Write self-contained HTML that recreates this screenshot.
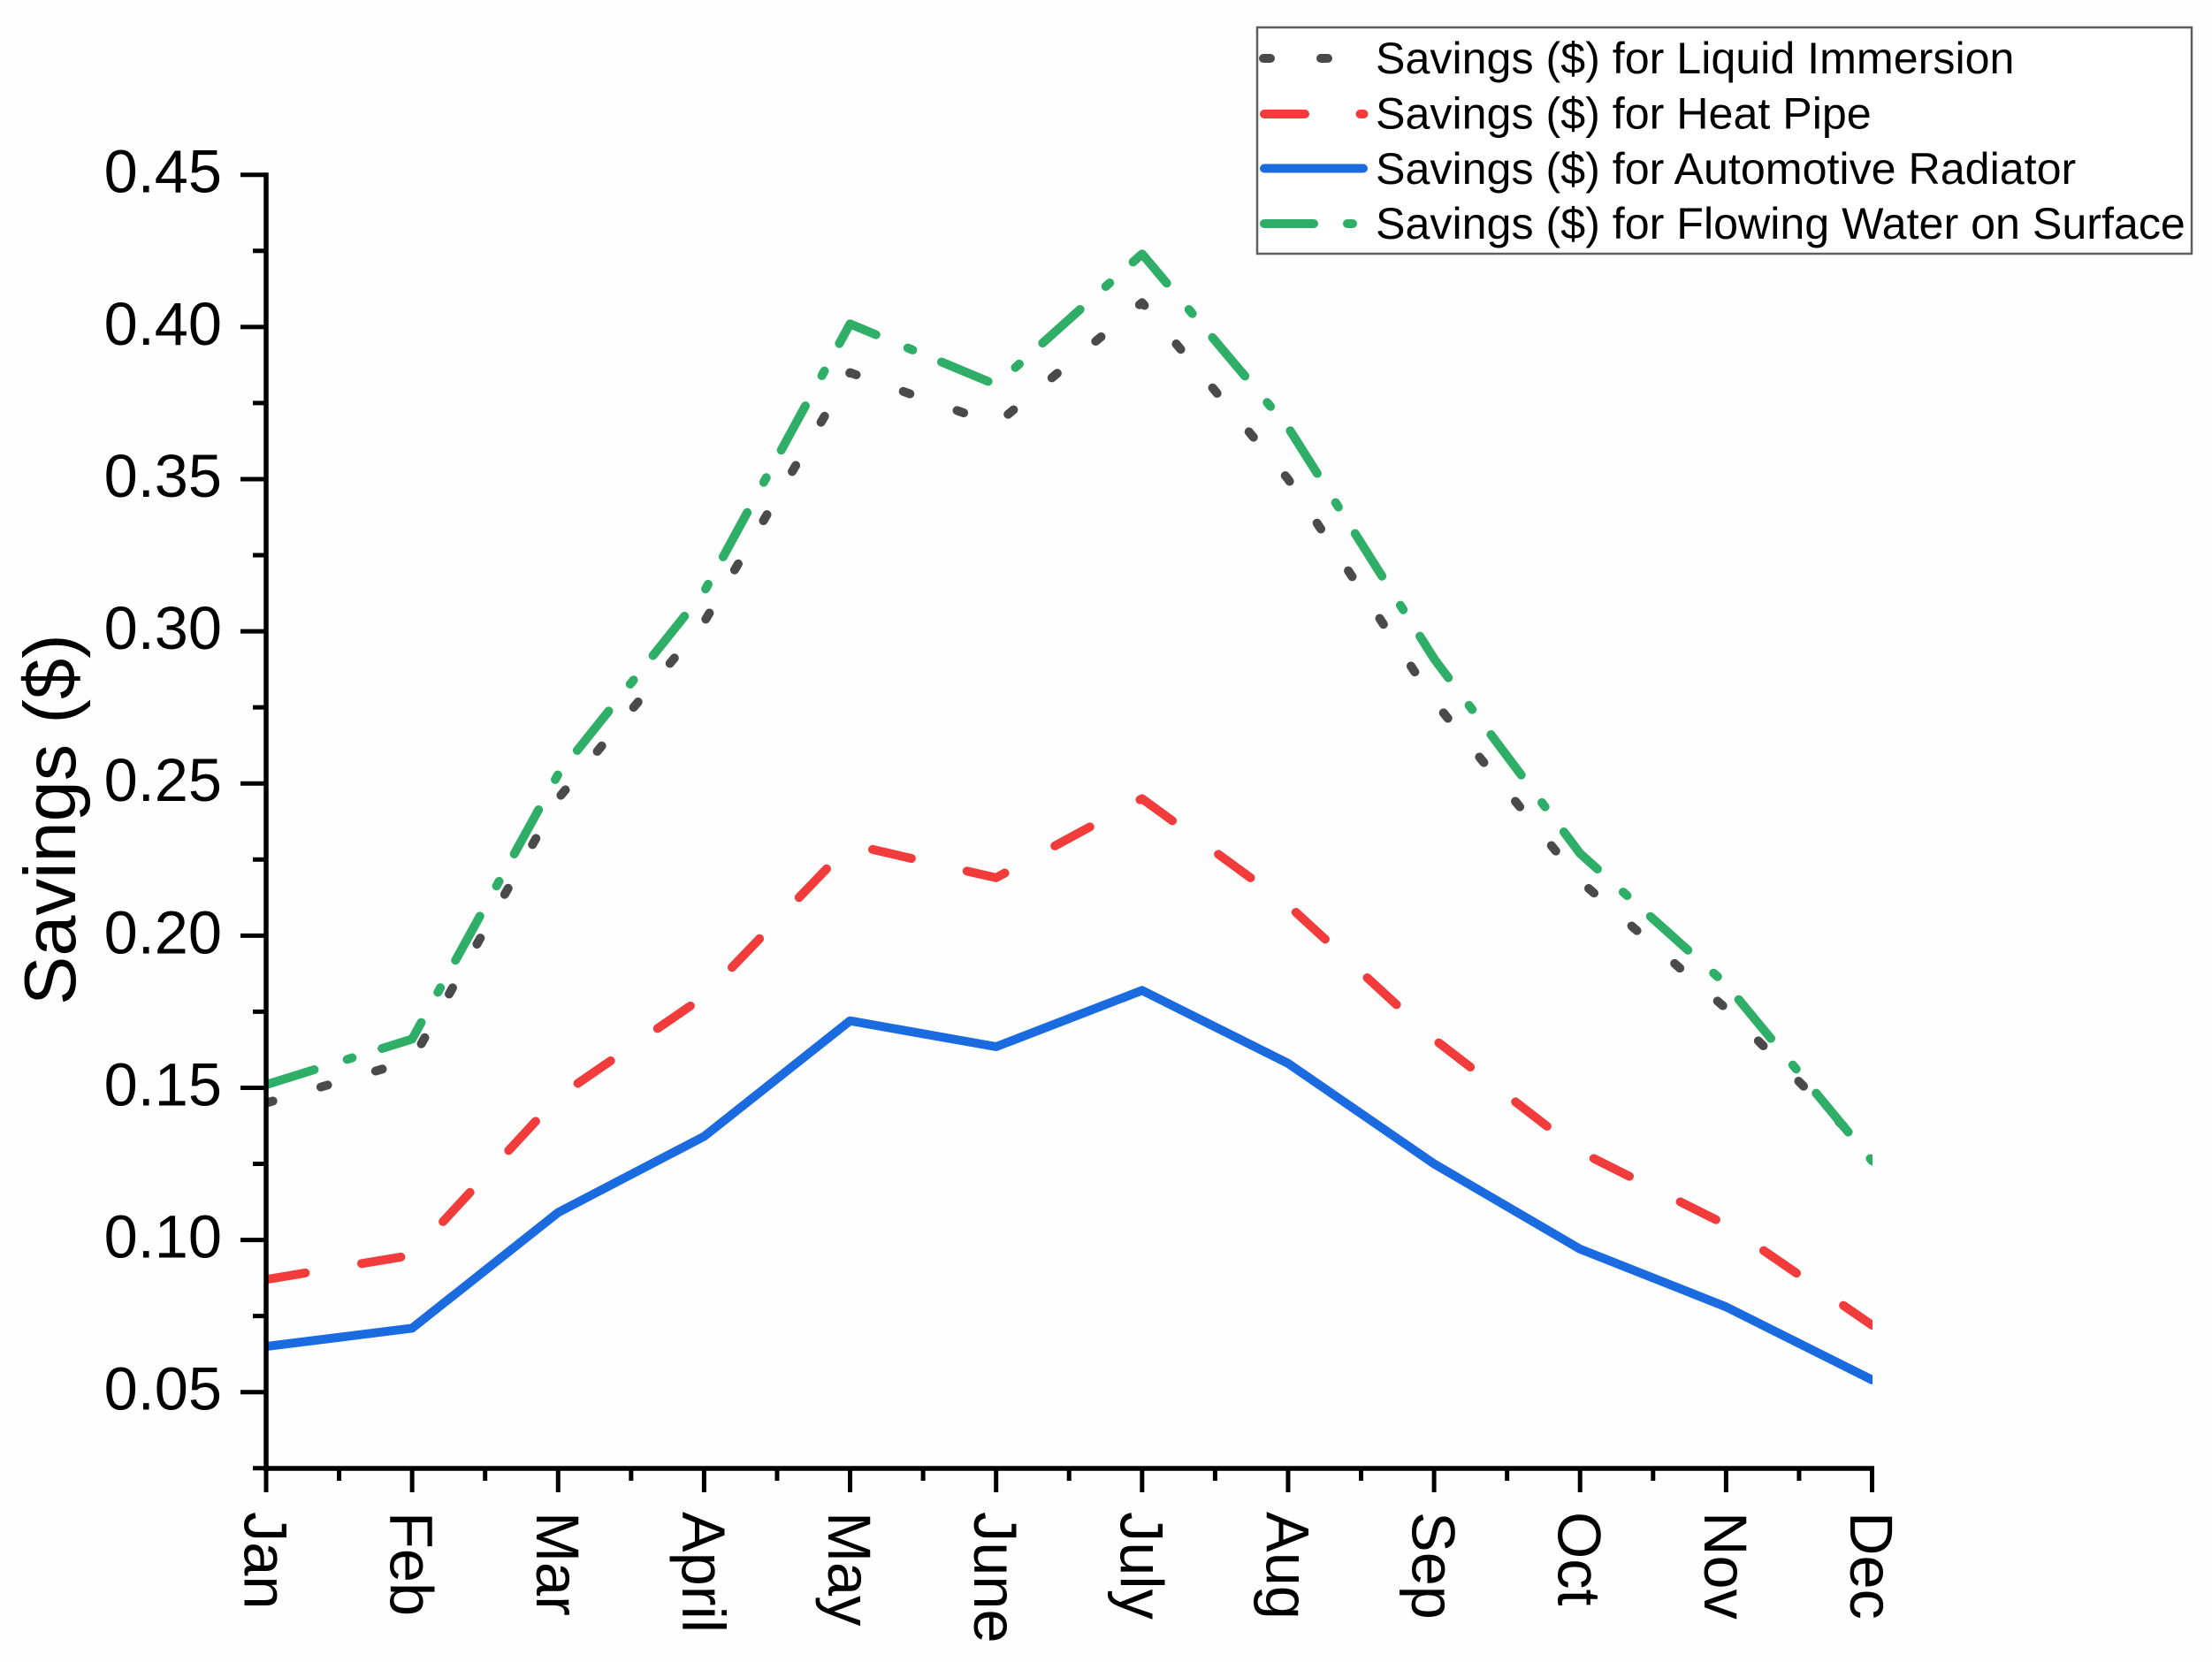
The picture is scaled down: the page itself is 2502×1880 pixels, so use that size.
<!DOCTYPE html>
<html lang="en">
<head>
<meta charset="utf-8">
<title>Savings chart</title>
<style>
  html, body { margin: 0; padding: 0; background: #fefefe; }
  svg { display: block; font-family: "Liberation Sans", Arial, sans-serif; }
</style>
</head>
<body>
<svg id="chart" xmlns="http://www.w3.org/2000/svg" width="2502" height="1880" viewBox="0 0 2502 1880">
  <defs>
    <clipPath id="plot-clip"><rect x="301" y="150" width="1817" height="1511"></rect></clipPath>
    <clipPath id="legend-clip"><rect x="1424" y="35" width="124" height="250"></rect></clipPath>
  </defs>
  <rect width="2502" height="1880" fill="#fefefe"></rect>
  <g id="series" clip-path="url(#plot-clip)"></g>
  <g id="axes"></g>
  <text transform="translate(85,1137) rotate(-90)" font-size="83" fill="#000">Savings ($)</text>
  <g id="legend">
    <rect x="1422" y="31" width="1057" height="256" fill="#fff" stroke="#5f5f5f" stroke-width="2.5"></rect>
    <g clip-path="url(#legend-clip)" fill="none" stroke-width="10" stroke-linecap="round">
      <line x1="1429" x2="1542" y1="66" y2="66" stroke="#4a4a4a" stroke-dasharray="8 57"></line>
      <line x1="1430" x2="1542.5" y1="129" y2="129" stroke="#f23b3b" stroke-dasharray="46 62.5"></line>
      <line x1="1430" x2="1542" y1="190.5" y2="190.5" stroke="#1b6be0"></line>
      <line x1="1430" x2="1542" y1="253" y2="253" stroke="#2eae67" stroke-dasharray="56 38 6 60"></line>
    </g>
    <g font-size="50.2" fill="#000">
      <text x="1556" y="83">Savings ($) for Liquid Immersion</text>
      <text x="1556" y="145.5">Savings ($) for Heat Pipe</text>
      <text x="1556" y="208">Savings ($) for Automotive Radiator</text>
      <text x="1556" y="270">Savings ($) for Flowing Water on Surface</text>
    </g>
  </g>
</svg>
<script>
var months = ["Jan","Feb","Mar","April","May","June","July","Aug","Sep","Oct","Nov","Dec"];
var liquidImmersion = [0.145,0.159,0.245,0.303,0.385,0.368,0.408,0.350,0.277,0.218,0.176,0.128];
var heatPipe = [0.087,0.095,0.147,0.180,0.230,0.219,0.245,0.210,0.166,0.129,0.105,0.072];
var automotiveRadiator = [0.065,0.071,0.109,0.134,0.172,0.1635,0.182,0.158,0.125,0.097,0.078,0.054];
var flowingWater = [0.151,0.166,0.253,0.313,0.401,0.381,0.424,0.367,0.291,0.227,0.184,0.126];
var yMajorTicks = [0.05,0.10,0.15,0.20,0.25,0.30,0.35,0.40,0.45];
var yMinorTicks = [0.025,0.075,0.125,0.175,0.225,0.275,0.325,0.375,0.425];

var NS = "http://www.w3.org/2000/svg";
function xScale(i) { return 301 + i * (2117.5 - 301) / 11; }
function yScale(v) { return 1574.7 - (v - 0.05) * (1574.7 - 197.7) / 0.4; }
function make(tag, parent) {
  var el = document.createElementNS(NS, tag);
  parent.appendChild(el);
  return el;
}
function set(el, k, v) { el.setAttribute(k, v); }

var seriesGroup = document.getElementById("series");
var seriesConfigs = [
  { key: "liquid-immersion", values: liquidImmersion, color: "#4a4a4a", dash: "8 56.5" },
  { key: "heat-pipe", values: heatPipe, color: "#f23b3b", dash: "45 64.5" },
  { key: "automotive-radiator", values: automotiveRadiator, color: "#1b6be0", dash: "" },
  { key: "flowing-water", values: flowingWater, color: "#2eae67", dash: "57 39 6 35.4" }
];
seriesConfigs.forEach(function (s) {
  var path = make("path", seriesGroup);
  
  
  set(path, "data-series", s.key);
  var d = s.values.map(function (v, i) {
    return (i ? "L" : "M") + xScale(i).toFixed(1) + " " + yScale(v).toFixed(1);
  }).join(" ");
  set(path, "d", d);
  set(path, "fill", "none");
  set(path, "stroke", s.color);
  set(path, "stroke-width", "10");
  set(path, "stroke-linecap", "round");
  set(path, "stroke-linejoin", "round");
  if (s.dash) set(path, "stroke-dasharray", s.dash);
});

var axes = document.getElementById("axes");
function segment(x1, y1, x2, y2, w) {
  var l = make("line", axes);
  set(l, "x1", x1); set(l, "y1", y1); set(l, "x2", x2); set(l, "y2", y2);
  set(l, "stroke", "#000"); set(l, "stroke-width", w);
  return l;
}
var yAxisLine = segment(301, 195.2, 301, 1664, 5.5);


var xAxisLine = segment(298, 1661, 2120, 1661, 5.5);



yMajorTicks.forEach(function (v) {
  var y = yScale(v);
  var t = segment(272, y, 301, y, 5);
  
  
  var label = make("text", axes);
  
  
  set(label, "x", 251);
  set(label, "y", y + 20);
  set(label, "text-anchor", "end");
  set(label, "font-size", "68.5");
  set(label, "fill", "#000");
  label.textContent = v.toFixed(2);
});
yMinorTicks.forEach(function (v) {
  var y = yScale(v);
  var t = segment(286, y, 301, y, 5);
  
  
});
months.forEach(function (m, i) {
  var x = xScale(i);
  var t = segment(x, 1661, x, 1688, 5);
  
  
  if (i < months.length - 1) {
    var xm = xScale(i + 0.5);
    var tm = segment(xm, 1661, xm, 1675, 5);
    
    
  }
  var label = make("text", axes);
  
  
  set(label, "transform", "translate(" + (x - 24.5).toFixed(1) + ",1710) rotate(90)");
  set(label, "font-size", "68.5");
  set(label, "fill", "#000");
  label.textContent = m;
});
</script>
</body>
</html>
